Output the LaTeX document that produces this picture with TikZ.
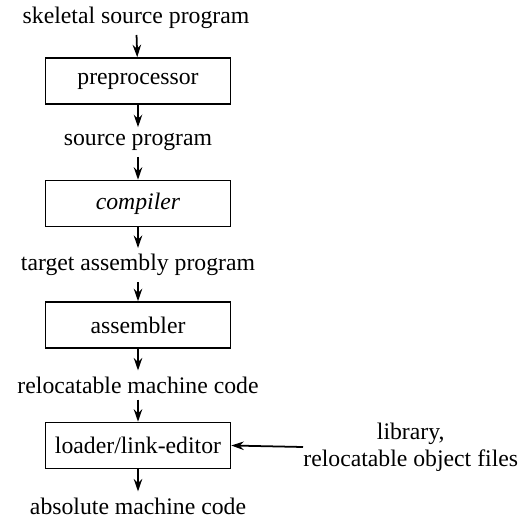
\documentclass[tikz,border=0pt]{standalone}
\usepackage{fontspec}
\setmainfont{Liberation Serif}
\usetikzlibrary{arrows.meta}

\tikzset{
  stage/.style={draw, line width=0.9pt, minimum width=3.7cm, minimum height=0.92cm},
  flow/.style={line width=1pt, -{Stealth[length=0.25cm, width=0.17cm]}}
}

\begin{document}
\begin{tikzpicture}[font=\fontsize{13.5}{15.5}\selectfont]
\useasboundingbox (0,0) rectangle (10.46,-10.34);

% Boxes
\node [stage] (pre) at (2.76,-1.62) {preprocessor};
\node [stage] (comp) at (2.76,-4.07) {\textit{compiler}};
\node [stage] (asm) at (2.76,-6.5) {assembler};
\node [stage] (load) at (2.76,-8.91) {loader/link-editor};

% Labels
\node (skel) at (2.72,-0.36) {skeletal source program};
\node (src) at (2.76,-2.84) {source program};
\node (tgt) at (2.76,-5.3) {target assembly program};
\node (rel) at (2.76,-7.7) {relocatable machine code};
\node (abs) at (2.76,-10.12) {absolute machine code};
\node [align=center, anchor=west, inner sep=0pt] (lib) at (6.06,-8.94) {library,\\relocatable object files};

% Arrows
\draw [flow] (skel) -- (pre);
\draw [flow] (pre) -- (src);
\draw [flow] (src) -- (comp);
\draw [flow] (comp) -- (tgt);
\draw [flow] (tgt) -- (asm);
\draw [flow] (asm) -- (rel);
\draw [flow] (rel) -- (load);
\draw [flow] (load) -- (abs);
\draw [flow] (lib.west) -- (load.east);

\end{tikzpicture}
\end{document}
